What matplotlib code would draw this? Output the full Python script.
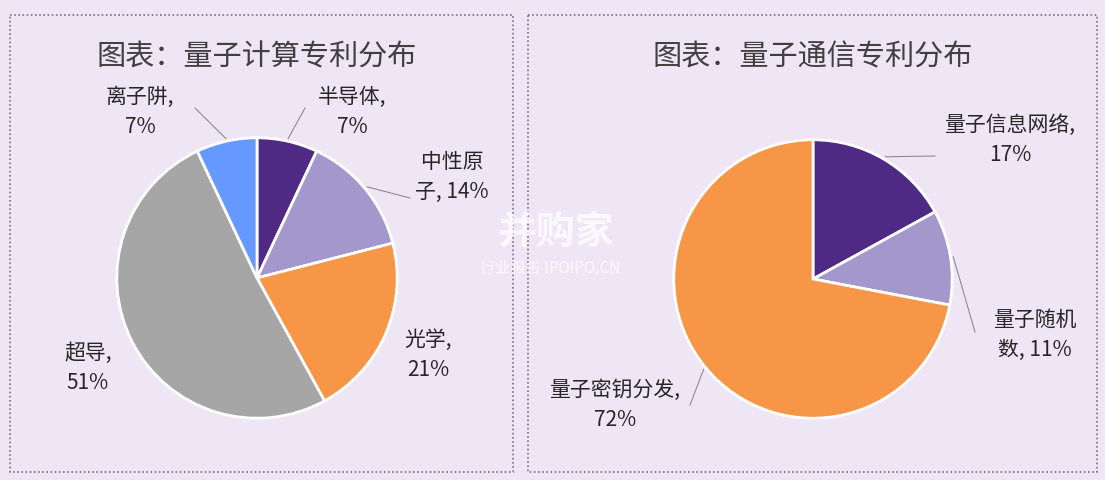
import numpy as np
import matplotlib
matplotlib.use("Agg")
import matplotlib.pyplot as plt
from matplotlib.patches import Rectangle

plt.rcParams['font.family'] = ['Noto Sans CJK SC', 'DejaVu Sans']

BG = "#EFE6F5"
TEXT = "#262626"

# Data
left_title = "图表：量子计算专利分布"
left_labels = ["半导体,\n7%", "中性原\n子, 14%", "光学,\n21%", "超导,\n51%", "离子阱,\n7%"]
left_values = [7, 14, 21, 51, 7]
left_colors = ["#4E2A84", "#A497CC", "#F79646", "#A6A6A6", "#6699FF"]

right_title = "图表：量子通信专利分布"
right_labels = ["量子信息网络,\n17%", "量子随机\n数, 11%", "量子密钥分发,\n72%"]
right_values = [17, 11, 72]
right_colors = ["#4E2A84", "#A497CC", "#F79646"]

W, H = 1105, 480
fig = plt.figure(figsize=(W / 100, H / 100), dpi=100, facecolor=BG)

# overlay in pixel coordinates
ov = fig.add_axes([0, 0, 1, 1], zorder=5)
ov.set_xlim(0, W)
ov.set_ylim(H, 0)
ov.axis("off")
ov.patch.set_alpha(0)

# panel borders
for x0, x1 in [(10, 513), (528, 1097)]:
    ov.add_patch(Rectangle((x0, 15), x1 - x0, 457, fill=False,
                           edgecolor="#7F6A93", linestyle=(0, (1, 1.5)), linewidth=1.2))


def draw_pie(cx, cy, r, values, colors, labels, label_pos, leaders, title, tx):
    ax = fig.add_axes([(cx - r) / W, (H - cy - r) / H, 2 * r / W, 2 * r / H])
    ax.pie(values, colors=colors, startangle=90, counterclock=False, radius=1,
           wedgeprops=dict(edgecolor="white", linewidth=2))
    ax.set_xlim(-1.02, 1.02)
    ax.set_ylim(-1.02, 1.02)
    ax.set_aspect("auto")
    ax.axis("off")
    # mid angles
    cum = np.cumsum([0] + list(values))
    total = cum[-1]
    for i, (lab, (lx, ly)) in enumerate(zip(labels, label_pos)):
        ov.text(lx, ly, lab, ha="center", va="center", fontsize=15,
                color=TEXT, linespacing=1.45)
        if leaders[i] is not None:
            mid = (cum[i] + cum[i + 1]) / 2 / total
            ang = np.pi / 2 - 2 * np.pi * mid
            px, py = cx + r * np.cos(ang), cy - r * np.sin(ang)
            ex, ey = leaders[i]
            ov.plot([px, ex], [py, ey], color="#8C8C8C", linewidth=0.8)
    ov.text(tx, 57, title, ha="center", va="center", fontsize=21, color="#404040")


draw_pie(257, 278, 143, left_values, left_colors, left_labels,
         [(352, 112), (452, 177), (428, 355), (88, 368), (140, 112)],
         [(305, 108), (410, 198), None, None, (195, 108)],
         left_title, 257)
draw_pie(813, 279, 142, right_values, right_colors, right_labels,
         [(1010, 140), (1035, 335), (615, 405)],
         [(935, 156), (975, 332), (690, 405)],
         right_title, 813)

# watermark
ov.text(555, 232, "并购家", ha="center", va="center", fontsize=28,
        color="white", alpha=0.75, fontweight="bold")
ov.text(550, 268, "行业报告 IPOIPO.CN", ha="center", va="center", fontsize=11,
        color="white", alpha=0.75)

fig.savefig("out.png", dpi=100, facecolor=BG)
